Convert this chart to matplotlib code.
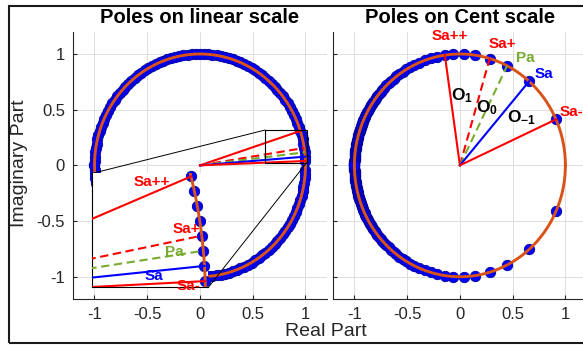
import numpy as np
import matplotlib
matplotlib.use('Agg')
import matplotlib.pyplot as plt
from matplotlib.patches import Rectangle

plt.rcParams['font.family'] = ['Liberation Sans', 'DejaVu Sans']
plt.rcParams['mathtext.fontset'] = 'custom'
plt.rcParams['mathtext.rm'] = 'Liberation Sans'
plt.rcParams['mathtext.bf'] = 'Liberation Sans:bold'

# pole angles in degrees (upper half plane, conjugates mirrored)
theta_lin = [2.25, 4.5, 6.75, 9.0, 11.25, 13.5, 15.75, 18.0, 20.25, 22.5,
             24.75, 27.0, 29.25, 31.5, 33.75, 36.0, 38.25, 40.5, 42.75, 45.0,
             47.25, 49.5, 51.75, 54.0, 56.25, 58.5, 60.75, 63.0, 65.25, 67.5,
             69.75, 72.0, 74.25, 76.5, 78.75, 81.0, 83.25, 85.5, 87.75, 90.0,
             92.25, 94.5, 96.75, 99.0, 101.25, 103.5, 105.75, 108.0, 110.25, 112.5,
             114.75, 117.0, 119.25, 121.5, 123.75, 126.0, 128.25, 130.5, 132.75, 135.0,
             137.25, 139.5, 141.75, 144.0, 146.25, 148.5, 150.75, 153.0, 155.25, 157.5,
             159.75, 162.0, 164.25, 166.5, 168.75, 171.0, 173.25, 175.5, 177.75, 180.0]

theta_cent = [24.4, 49.0, 63.4, 73.6, 81.5, 88.0, 93.5, 98.2, 102.4, 106.1,
              109.5, 112.6, 115.5, 118.1, 120.5, 122.8, 125.0, 127.0, 128.9, 130.7,
              132.5, 134.1, 135.7, 137.2, 138.7, 140.1, 141.4, 142.7, 143.9, 145.1,
              146.3, 147.4, 148.5, 149.6, 150.6, 151.6, 152.6, 153.5, 154.5, 155.4,
              156.2, 157.1, 157.9, 158.7, 159.5, 160.3, 161.1, 161.8, 162.6, 163.3,
              164.0, 164.7, 165.3, 166.0, 166.7, 167.3, 167.9, 168.5, 169.2, 169.7,
              170.3, 170.9, 171.5, 172.0, 172.6, 173.1, 173.7, 174.2, 174.7, 175.2,
              175.7, 176.2, 176.7, 177.2, 177.7, 178.1, 178.6, 179.1, 179.5, 180.0]

# marked poles
line_names = ['Sa++', 'Sa+', 'Pa', 'Sa', 'Sa-']
line_pole = [8, 4, 3, 2, 1]
line_colors = ['#FF0000', '#FF0000', '#77AC30', '#0000FF', '#FF0000']
line_styles = ['-', (0, (4, 2.2)), (0, (4, 2.2)), '-', '-']

lin_label_x = [-0.46, -0.13, -0.24, -0.44, -0.11]
lin_label_y = [-0.15, -0.575, -0.78, -0.99, -1.085]
cent_label_x = [-0.095, 0.405, 0.617, 0.80, 1.06]
cent_label_y = [1.16, 1.087, 0.961, 0.82, 0.476]

oct_names = [r'$\mathbf{O_{1}}$', r'$\mathbf{O_{0}}$', r'$\mathbf{O_{-1}}$']
oct_x = [0.02, 0.26, 0.58]
oct_y = [0.63, 0.52, 0.43]

# zoomed region of the linear plot and where the inset sits
zoom_xlim = [0.616, 1.01]
zoom_ylim = [0.023, 0.317]
inset_box = [-1.02, -1.096, 1.099, 1.024]

orange = '#D95319'
axcol = '#262626'
t = np.linspace(0, 2 * np.pi, 500)


def poles_xy(ang):
    a = np.deg2rad(np.concatenate([np.array(ang), -np.array(ang)]))
    return np.cos(a), np.sin(a)


def draw(ax, ang, clip=True, lim=None):
    px, py = poles_xy(ang)
    if lim is not None:
        m = (px >= lim[0][0]) & (px <= lim[0][1]) & (py >= lim[1][0]) & (py <= lim[1][1])
        px, py = px[m], py[m]
    ax.plot(px, py, 'o', ms=7.5, mfc='#0000FF', mec='#00009A', mew=0.6,
            zorder=3, clip_on=clip)
    ax.plot(np.cos(t), np.sin(t), color=orange, lw=2.1, zorder=4)
    for i in range(len(line_pole)):
        a = np.deg2rad(ang[line_pole[i] - 1])
        ax.plot([0, np.cos(a)], [0, np.sin(a)], color=line_colors[i],
                ls=line_styles[i], lw=1.5, zorder=5)


def style(ax, ylabels=True):
    ax.set_xlim(-1.2, 1.2)
    ax.set_ylim(-1.2, 1.2)
    ax.set_xticks([-1, -0.5, 0, 0.5, 1])
    ax.set_yticks([-1, -0.5, 0, 0.5, 1])
    ax.set_xticklabels(['-1', '-0.5', '0', '0.5', '1'])
    if ylabels:
        ax.set_yticklabels(['-1', '-0.5', '0', '0.5', '1'])
    else:
        ax.set_yticklabels([])
    ax.grid(True, color='#DEDEDE', lw=0.7)
    ax.set_axisbelow(True)
    for s in ['top', 'right']:
        ax.spines[s].set_visible(False)
    for s in ['left', 'bottom']:
        ax.spines[s].set_color(axcol)
        ax.spines[s].set_linewidth(0.8)
    ax.tick_params(direction='in', length=3, color=axcol, labelsize=12,
                   labelcolor=axcol, pad=6)


fig = plt.figure(figsize=(5.83, 3.45), dpi=100)
ax1 = fig.add_axes([0.1259, 0.1333, 0.4343, 0.7748])
ax2 = fig.add_axes([0.5717, 0.1333, 0.4343, 0.7748])

# linear scale
draw(ax1, theta_lin)
style(ax1)
ax1.set_title('Poles on linear scale', fontsize=14.5, fontweight='bold', pad=6)

ax1.add_patch(Rectangle((zoom_xlim[0], zoom_ylim[0]), zoom_xlim[1] - zoom_xlim[0],
                        zoom_ylim[1] - zoom_ylim[0], fill=False, ec='k', lw=0.8, zorder=6))
ax1.plot([inset_box[0], zoom_xlim[0]], [inset_box[1] + inset_box[3], zoom_ylim[1]],
         color='k', lw=0.7, zorder=6)
ax1.plot([inset_box[0] + inset_box[2], zoom_xlim[1]], [inset_box[1], zoom_ylim[0]],
         color='k', lw=0.7, zorder=6)

axin = ax1.inset_axes(inset_box, transform=ax1.transData, zorder=7)
draw(axin, theta_lin, clip=False, lim=[zoom_xlim, zoom_ylim])
axin.set_xlim(zoom_xlim)
axin.set_ylim(zoom_ylim)
axin.set_xticks([])
axin.set_yticks([])
axin.spines['top'].set_visible(False)
axin.spines['right'].set_visible(False)
axin.spines['left'].set_color('k')
axin.spines['bottom'].set_color('k')
for i in range(len(line_names)):
    axin.text(lin_label_x[i], lin_label_y[i], line_names[i], transform=ax1.transData,
              color=line_colors[i], fontsize=11, fontweight='bold',
              ha='center', va='center', zorder=8)

# cent scale
draw(ax2, theta_cent)
style(ax2, ylabels=False)
ax2.set_title('Poles on Cent scale', fontsize=14.5, fontweight='bold', pad=6)
for i in range(len(line_names)):
    ax2.text(cent_label_x[i], cent_label_y[i], line_names[i], color=line_colors[i],
             fontsize=11, fontweight='bold', ha='center', va='center', zorder=8)
for i in range(len(oct_names)):
    ax2.text(oct_x[i], oct_y[i], oct_names[i], color='k', fontsize=12.5,
             ha='center', va='center', zorder=8)

fig.text(20 / 583, 0.527, 'Imaginary Part', rotation=90, fontsize=14,
         color=axcol, ha='center', va='center')
fig.text(325.5 / 583, 0.038, 'Real Part', fontsize=14, color=axcol,
         ha='center', va='center')

fig.add_artist(Rectangle((9 / 583, 0.0067), 1.0, 0.976, transform=fig.transFigure,
                         fill=False, ec='#1A1A1A', lw=1.5))

fig.savefig('out.png', dpi=100)
